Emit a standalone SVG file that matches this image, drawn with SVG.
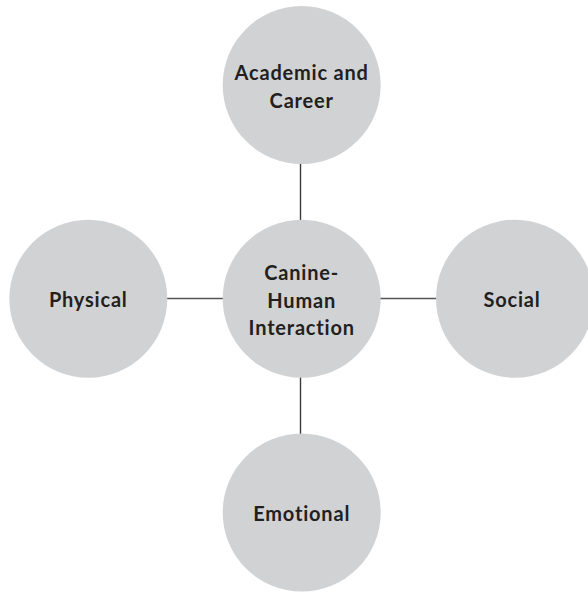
<svg xmlns="http://www.w3.org/2000/svg" width="588" height="592" viewBox="0 0 588 592">
<style>
.node{fill:#d1d2d4}
.lbl{font-family:Lato,"Noto Sans",sans-serif;font-weight:bold;font-size:20px;letter-spacing:0.8px;font-variant-ligatures:none;fill:#231f20;text-anchor:middle}
.edge{stroke:#3a3a3a;stroke-width:1.4;fill:none}
</style>
<rect width="588" height="592" fill="#ffffff"/>
<g id="connectors">
<line class="edge" x1="300.5" y1="163" x2="300.5" y2="221"/>
<line class="edge" x1="300.5" y1="377" x2="300.5" y2="435"/>
<line class="edge" x1="166" y1="298.5" x2="224" y2="298.5" style="stroke:#555"/>
<line class="edge" x1="379" y1="298.5" x2="437" y2="298.5" style="stroke:#555"/>
</g>
<g id="academic">
<circle class="node" cx="301.7" cy="85" r="79"/>
<text class="lbl" x="301.7" y="80">Academic and</text>
<text class="lbl" x="301.7" y="108">Career</text>
</g>
<g id="center">
<circle class="node" cx="301.7" cy="298.7" r="79"/>
<text class="lbl" x="301.7" y="280">Canine-</text>
<text class="lbl" x="301.7" y="307.5">Human</text>
<text class="lbl" x="301.7" y="335">Interaction</text>
</g>
<g id="physical">
<circle class="node" cx="88.3" cy="298.7" r="79"/>
<text class="lbl" x="88.3" y="307">Physical</text>
</g>
<g id="social">
<circle class="node" cx="515" cy="298.7" r="79"/>
<text class="lbl" x="512" y="307">Social</text>
</g>
<g id="emotional">
<circle class="node" cx="301.7" cy="512.5" r="79"/>
<text class="lbl" x="301.7" y="521">Emotional</text>
</g>
</svg>
